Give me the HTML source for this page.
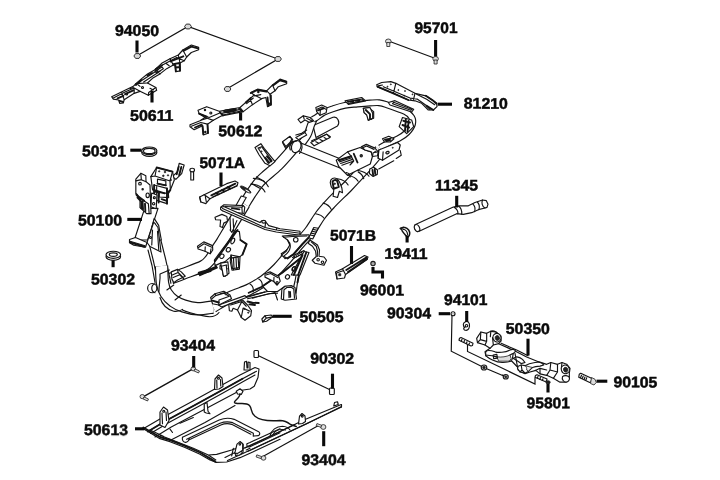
<!DOCTYPE html>
<html><head><meta charset="utf-8">
<style>
html,body{margin:0;padding:0;background:#fff;}
body{width:720px;height:480px;overflow:hidden;}
svg{display:block;}
text{text-rendering:geometricPrecision;font-family:"Liberation Sans",sans-serif;font-weight:bold;font-size:15.4px;fill:#0a0a0a;stroke:#0a0a0a;stroke-width:0.5px;}
path,line,circle,ellipse,polyline,polygon,rect{vector-effect:non-scaling-stroke;}
.ld{stroke:#0a0a0a;stroke-width:3.1;fill:none;}
.l{stroke:#141414;stroke-width:1.15;fill:none;stroke-linejoin:round;stroke-linecap:round;}
.f{stroke:#141414;stroke-width:1.15;fill:#fff;stroke-linejoin:round;stroke-linecap:round;}
.g{stroke:#1c1c1c;stroke-width:0.8;fill:#ddd;stroke-linejoin:round;}
.k{stroke:#1c1c1c;stroke-width:0.8;fill:#222;}
.h{stroke:#141414;stroke-width:1.9;fill:none;stroke-linejoin:round;stroke-linecap:round;}
.t{stroke:#111;stroke-width:1.15;fill:none;}
.to{stroke:#141414;fill:none;stroke-linecap:butt;stroke-linejoin:round;}
.ti{stroke:#fff;fill:none;stroke-linecap:butt;stroke-linejoin:round;}
</style></head><body>
<svg width="720" height="480" viewBox="0 0 720 480">
<rect width="720" height="480" fill="#fff"/>
<!-- fasteners -->
<g id="fasteners">
<!-- 94050 nuts and lines -->
<path class="t" d="M137.5,55.5L188,26.5L278,59L227.5,88.5"/>
<g class="g" style="stroke-width:0.9;fill:#d8d8d8">
<path d="M140.7,56.0L139.0,58.4L135.6,58.4L133.9,56.0L135.6,53.6L139.0,53.6Z"/>
<path d="M191.4,26.5L189.7,28.9L186.3,28.9L184.6,26.5L186.3,24.1L189.7,24.1Z"/>
<path d="M281.4,59.0L279.7,61.4L276.3,61.4L274.6,59.0L276.3,56.6L279.7,56.6Z"/>
<path d="M230.9,89.0L229.2,91.4L225.8,91.4L224.1,89.0L225.8,86.6L229.2,86.6Z"/>
</g>
<!-- 95701 bolts -->
<path class="t" d="M388.5,41L435.5,58.5"/>
<g class="g">
<ellipse cx="388.3" cy="41.3" rx="2.8" ry="2.3"/><rect x="386.8" y="42.5" width="3" height="4"/>
<ellipse cx="435.6" cy="58.8" rx="2.8" ry="2.3"/><rect x="434.1" y="60" width="3" height="4"/>
</g>
<!-- bolt near 5071A -->
<g class="f"><rect x="190.8" y="171" width="2.8" height="9"/><ellipse cx="192.2" cy="170" rx="2.3" ry="1.8"/></g>
<!-- 50301 ring -->
<g class="f"><ellipse cx="149.3" cy="152.5" rx="7.6" ry="3.8"/><ellipse cx="149.3" cy="150.8" rx="7.6" ry="3.8"/><ellipse cx="149.3" cy="151" rx="5.8" ry="2.6"/></g>
<!-- 50302 ring -->
<g class="f"><ellipse cx="113.3" cy="256.8" rx="7.3" ry="3.6"/><ellipse cx="113.3" cy="254.8" rx="7.3" ry="3.6"/><ellipse cx="113.3" cy="254.6" rx="4" ry="1.8"/></g>
<!-- 96001 ball -->
<circle class="g" style="fill:#aaa;stroke-width:1.1" cx="373" cy="263.6" r="2.2"/>
<!-- 90302 clips + line -->
<path class="t" d="M258,355.5L330.5,390"/>
<g class="f"><rect x="254" y="350.5" width="4.5" height="7" rx="1"/><rect x="329.5" y="388" width="4.8" height="6.5" rx="1"/></g>
<!-- 93404 upper -->
<path class="t" style="stroke-width:1.4" d="M144,396.3L192.5,369.2"/>
<g class="g"><ellipse cx="193.3" cy="368.8" rx="2.3" ry="2.1"/><rect x="194.5" y="368.8" width="5" height="2.2" transform="rotate(25 194.5 369.8)"/>
<ellipse cx="142.3" cy="396.6" rx="2.3" ry="2.1"/><rect x="143.5" y="396.8" width="5" height="2.2" transform="rotate(25 143.5 397.8)"/></g>
<!-- 93404 lower -->
<path class="t" d="M318.5,425.5L262,457"/>
<g class="g"><ellipse cx="323.3" cy="427" rx="2.6" ry="2.4"/><rect x="316.5" y="424" width="5" height="2.2" transform="rotate(20 318 425)"/>
<ellipse cx="263.5" cy="458" rx="2.4" ry="2.2"/><rect x="256.5" y="455.3" width="5" height="2.2" transform="rotate(20 258 456)"/></g>
</g>
<!-- b50611 -->
<g id="b50611" transform="translate(100,30) scale(0.166667)">
<path class="f" d="M70,400L150,362L200,338L215,322L250,292L285,264L330,238L370,200L420,172L470,150L497,120L548,90L592,104L592,118L548,135L520,162L505,185L480,198L482,245L455,250L450,212L440,210L400,232L362,262L315,290L285,318L335,345L340,362L290,392L240,368L205,380L145,418L140,438L118,440L112,420L80,415Z"/>
<path class="l" d="M80,408L150,372L205,348L240,368M215,322L285,318M255,300L350,238M262,312L360,248M130,375L145,418M205,348L205,380M330,238L362,262M372,212L460,165L505,185M497,120L520,162M290,392L292,375L335,345M300,350L320,360M420,172L440,210M470,150L480,198"/>
<circle class="l" cx="255" cy="345" r="6"/><circle class="l" cx="425" cy="188" r="4"/><circle class="l" cx="160" cy="385" r="5"/>
<path class="h" d="M105,410L140,395M455,225L480,222M430,185L500,158M440,205L478,198M452,212L455,248M478,200L480,244M285,272L312,258M335,235L372,212M150,385L200,362M215,330L250,300M118,425L138,432M500,125L548,100L588,110"/>
<path class="l" d="M330,248L372,222L380,232L340,258ZM180,352L200,345M230,330L240,338M395,200L415,215"/>
</g>
<!-- b50612 -->
<g id="b50612" transform="translate(180,60) scale(0.166667)">
<path class="f" d="M60,388L120,365L150,345L115,322L108,302L160,280L235,308L360,285L420,232L445,210L425,195L465,175L520,185L555,150L600,115L640,128L640,142L590,160L570,185L540,205L545,270L525,280L515,225L490,232L435,268L380,310L250,335L200,362L165,385L168,440L140,450L135,395L85,418L60,400Z"/>
<path class="l" d="M68,398L125,375L165,385M150,345L200,362M115,322L175,345L235,320M250,320L355,298M258,330L370,305M360,285L380,310M420,232L435,268M445,210L490,232M520,185L540,205M555,150L570,185M270,300L330,292M400,262L440,228"/>
<circle class="l" cx="185" cy="318" r="6"/><circle class="l" cx="150" cy="300" r="4"/><circle class="l" cx="470" cy="192" r="4"/><circle class="l" cx="152" cy="432" r="4"/><circle class="l" cx="535" cy="262" r="4"/>
<path class="h" d="M135,395L140,445M525,225L530,275M265,310L335,296M165,388L168,438M545,212L546,268M115,322L160,340M425,198L465,180L518,190M560,152L600,122L636,132M90,405L130,388M240,315L258,332M355,292L372,308M395,255L425,228"/>
<path class="l" d="M280,308L330,298L335,306L285,316ZM130,360L160,350M445,215L485,208"/>
</g>
<!-- b81210 -->
<g id="b81210" transform="translate(360,60) scale(0.166667)">
<path class="f" d="M100,148L130,135L185,130L215,140L330,200L395,215L440,245L460,258L462,280L440,300L410,300L370,260L330,245L290,240L200,200L140,175L105,162Z"/>
<path class="l" d="M140,160L300,228L345,235L400,275L420,298M340,205L400,235L448,268M215,140L200,200M330,200L320,242M110,155L135,150"/>
<path class="h" d="M105,160L140,175L200,200L290,240M395,215L440,245L458,262M400,275L440,300"/>
<g class="k"><circle cx="185" cy="146" r="3"/><circle cx="165" cy="160" r="3"/><circle cx="230" cy="180" r="3"/><circle cx="270" cy="186" r="3"/><circle cx="265" cy="214" r="3"/><circle cx="315" cy="206" r="3"/><circle cx="305" cy="234" r="3"/></g>
</g>
<!-- frame_under -->
<g id="frame_under">
<!-- knob behind down tube (8x window 140,260) -->
<g transform="translate(140,260) scale(0.125)">
<circle class="f" cx="98" cy="225" r="37"/>
<path class="l" d="M120,190A38,38 0 0,0 120,262"/>
</g>
</g>
<!-- frame_tubes -->
<g id="frame">
<path class="to" stroke-width="12.15" d="M171.0,278.5C173.0,277.7 177.7,276.0 183.0,273.9C188.3,271.8 198.4,268.4 203.0,266.0C207.6,263.6 208.0,262.2 210.4,259.3C212.8,256.4 215.3,251.8 217.2,248.8C219.1,245.8 219.4,245.8 222.0,241.5C224.6,237.2 229.2,229.2 233.0,223.0C236.8,216.8 242.6,207.2 244.5,204.0" />
<path class="ti" stroke-width="9.85" d="M171.0,278.5C173.0,277.7 177.7,276.0 183.0,273.9C188.3,271.8 198.4,268.4 203.0,266.0C207.6,263.6 208.0,262.2 210.4,259.3C212.8,256.4 215.3,251.8 217.2,248.8C219.1,245.8 219.4,245.8 222.0,241.5C224.6,237.2 229.2,229.2 233.0,223.0C236.8,216.8 242.6,207.2 244.5,204.0" />
<path class="to" stroke-width="11.45" d="M244.5,204.0C245.6,202.2 248.7,196.9 251.0,193.5C253.3,190.1 256.0,186.1 258.3,183.3C260.6,180.5 261.7,179.7 265.0,176.6C268.3,173.5 273.6,169.7 278.3,165.0C283.0,160.3 290.2,151.8 293.3,148.3C296.4,144.8 296.4,144.7 297.0,144.0" />
<path class="ti" stroke-width="9.15" d="M244.5,204.0C245.6,202.2 248.7,196.9 251.0,193.5C253.3,190.1 256.0,186.1 258.3,183.3C260.6,180.5 261.7,179.7 265.0,176.6C268.3,173.5 273.6,169.7 278.3,165.0C283.0,160.3 290.2,151.8 293.3,148.3C296.4,144.8 296.4,144.7 297.0,144.0" />
<path class="f" d="M313,125.5L333,117.3C337.5,116 340.5,122 337.5,126L316,137.5Z"/>
<path class="to" stroke-width="8.15" d="M302.0,143.0C302.9,141.7 306.0,138.0 307.5,135.0C309.0,132.0 309.9,127.8 311.0,125.0C312.1,122.2 313.5,119.6 314.0,118.5" />
<path class="ti" stroke-width="5.85" d="M302.0,143.0C302.9,141.7 306.0,138.0 307.5,135.0C309.0,132.0 309.9,127.8 311.0,125.0C312.1,122.2 313.5,119.6 314.0,118.5" />
<path class="to" stroke-width="6.95" d="M313.0,119.5C313.6,119.1 315.2,118.3 316.9,117.2C318.6,116.1 320.3,114.2 323.0,112.8C325.7,111.3 329.3,110.0 333.0,108.8C336.7,107.5 340.9,106.1 345.0,105.3C349.1,104.5 353.3,104.4 357.5,104.0C361.7,103.6 366.5,103.2 370.0,103.0C373.5,102.8 376.0,102.5 378.8,102.7C381.5,103.0 381.9,103.0 386.2,104.5C390.6,106.0 400.8,109.4 405.0,111.5C409.2,113.6 410.2,114.9 411.5,117.0C412.8,119.1 413.2,121.4 412.5,124.0C411.8,126.6 409.3,130.1 407.0,132.5C404.7,134.9 401.6,136.8 398.5,138.5C395.4,140.2 391.6,141.4 388.5,143.0C385.4,144.6 381.4,147.2 380.0,148.0" />
<path class="ti" stroke-width="4.65" d="M313.0,119.5C313.6,119.1 315.2,118.3 316.9,117.2C318.6,116.1 320.3,114.2 323.0,112.8C325.7,111.3 329.3,110.0 333.0,108.8C336.7,107.5 340.9,106.1 345.0,105.3C349.1,104.5 353.3,104.4 357.5,104.0C361.7,103.6 366.5,103.2 370.0,103.0C373.5,102.8 376.0,102.5 378.8,102.7C381.5,103.0 381.9,103.0 386.2,104.5C390.6,106.0 400.8,109.4 405.0,111.5C409.2,113.6 410.2,114.9 411.5,117.0C412.8,119.1 413.2,121.4 412.5,124.0C411.8,126.6 409.3,130.1 407.0,132.5C404.7,134.9 401.6,136.8 398.5,138.5C395.4,140.2 391.6,141.4 388.5,143.0C385.4,144.6 381.4,147.2 380.0,148.0" />
<path class="to" stroke-width="9.75" d="M298.0,146.5L346.0,165.7" />
<path class="ti" stroke-width="7.45" d="M298.0,146.5L346.0,165.7" />
<ellipse class="f" cx="296.2" cy="146.6" rx="4.6" ry="6.2" transform="rotate(20 296.2 146.6)"/><path class="l" d="M300.5,141.5C303,145 302.5,150 299.5,153.5"/>
<path class="to" stroke-width="11.95" d="M380.0,150.0C378.7,151.7 375.8,155.7 372.0,160.0C368.2,164.3 361.6,171.6 357.5,176.0C353.4,180.4 352.1,182.0 347.7,186.5C343.3,191.0 335.5,198.2 331.0,203.0C326.5,207.8 324.1,210.3 320.6,215.0C317.1,219.7 313.8,226.0 310.0,231.0C306.2,236.0 301.9,240.4 298.0,245.0C294.1,249.6 289.9,254.6 286.5,258.5C283.1,262.4 280.7,265.4 277.7,268.5C274.7,271.6 271.3,274.6 268.5,277.0C265.7,279.4 264.4,280.6 261.0,282.7C257.6,284.8 253.6,287.4 248.4,289.8C243.2,292.2 235.5,294.4 229.6,297.3C223.7,300.2 215.8,305.4 213.0,307.0" />
<path class="ti" stroke-width="9.65" d="M380.0,150.0C378.7,151.7 375.8,155.7 372.0,160.0C368.2,164.3 361.6,171.6 357.5,176.0C353.4,180.4 352.1,182.0 347.7,186.5C343.3,191.0 335.5,198.2 331.0,203.0C326.5,207.8 324.1,210.3 320.6,215.0C317.1,219.7 313.8,226.0 310.0,231.0C306.2,236.0 301.9,240.4 298.0,245.0C294.1,249.6 289.9,254.6 286.5,258.5C283.1,262.4 280.7,265.4 277.7,268.5C274.7,271.6 271.3,274.6 268.5,277.0C265.7,279.4 264.4,280.6 261.0,282.7C257.6,284.8 253.6,287.4 248.4,289.8C243.2,292.2 235.5,294.4 229.6,297.3C223.7,300.2 215.8,305.4 213.0,307.0" />
<path class="to" stroke-width="13.45" d="M151.5,228.0L159.5,260.0L165.0,285.0" />
<path class="ti" stroke-width="11.15" d="M151.5,228.0L159.5,260.0L165.0,285.0" />
<path class="to" stroke-width="13.45" d="M161.5,266.0C161.7,268.8 161.8,278.5 162.5,283.0C163.2,287.5 164.1,290.0 166.0,293.0C167.9,296.0 170.8,299.1 173.8,301.2C176.7,303.4 179.8,304.7 183.8,306.0C187.7,307.3 192.6,308.6 197.5,308.8C202.4,309.0 210.4,307.3 213.0,307.0" />
<path class="ti" stroke-width="11.15" d="M161.5,266.0C161.7,268.8 161.8,278.5 162.5,283.0C163.2,287.5 164.1,290.0 166.0,293.0C167.9,296.0 170.8,299.1 173.8,301.2C176.7,303.4 179.8,304.7 183.8,306.0C187.7,307.3 192.6,308.6 197.5,308.8C202.4,309.0 210.4,307.3 213.0,307.0" />
</g>
<!-- frame_detail1 -->
<g id="frame_detail1">
<!-- U-bend area, 8x window (140,260) -->
<g transform="translate(140,260) scale(0.125)">
<path class="l" d="M160,300C175,350 215,395 270,410C300,415 325,405 340,395M340,400C380,420 450,435 500,445C560,462 610,450 632,420M215,240L270,200M280,320L330,280M165,110L235,80M160,112C165,160 150,200 152,250"/>
<path class="f" d="M250,95L300,75L330,95L362,130L300,160L270,182L255,150Z"/>
<path class="l" d="M258,120L305,100L340,135M265,140L318,118L350,150M300,75L305,100"/>
<path class="h" d="M470,102L560,76M475,112L565,88"/>
<path class="f" d="M640,45L700,40L705,70L690,75L692,118L665,122L660,80L640,70Z"/>
</g>
<!-- far rail lower brackets, 8x window (150,230) -->
<g transform="translate(150,230) scale(0.125)">
<path class="f" d="M380,130L430,95L500,125L502,160L482,190L440,170L385,152Z"/>
<path class="l" d="M388,140L432,110L495,138M440,170L442,135M482,190L488,150"/>
<path class="f" d="M515,240L690,5L715,13L723,80L773,113L740,197L698,230L648,213L598,255L565,265L520,285Z"/>
<ellipse class="l" cx="575" cy="210" rx="16" ry="19" transform="rotate(30 575 210)"/>
<ellipse class="l" cx="627" cy="158" rx="16" ry="19" transform="rotate(30 627 158)"/>
<ellipse class="l" cx="662" cy="88" rx="13" ry="24" transform="rotate(25 662 88)"/>
<path class="h" d="M520,250L700,0M392,352L530,292M400,362L535,302"/>
<path class="f" d="M565,265L623,255L632,346L598,372L575,315Z"/>
<path class="f" d="M648,200L720,215L715,313L656,322L642,250Z"/>
<path class="l" d="M665,250L668,318M685,252L690,316M700,255L703,313M648,200L660,248L715,262"/>
<circle class="k" cx="612" cy="285" r="4"/><circle class="k" cx="615" cy="310" r="4"/><path class="h" d="M723,80L773,113L740,197"/>
</g>
</g>
<!-- frame_detail2 -->
<g id="frame_detail2">
<!-- near lower rail details, 8x window (215,250) -->
<g transform="translate(215,250) scale(0.125)">
<!-- far-side gusset remnants top-left -->
<path class="f" d="M50,130L90,120L98,200L68,212L60,170Z"/>
<path class="f" d="M130,65L185,55L190,140L140,150Z"/>
<path class="l" d="M148,65L152,146M168,60L172,142"/>
<!-- gusset plate near -->
<path class="f" d="M380,290L540,180L690,60L700,70L690,110L660,260L648,345L600,292L560,290L500,332L420,332Z"/>
<path class="h" d="M380,290L540,180L690,60M270,342L380,292M690,110L660,260"/>
<path class="l" d="M260,370L420,332M300,385L430,350L500,345M670,80L640,250L628,300"/>
<ellipse class="l" cx="635" cy="150" rx="15" ry="18" transform="rotate(30 635 150)"/>
<ellipse class="l" cx="580" cy="215" rx="16" ry="18" transform="rotate(30 580 215)"/>
<!-- bracket on rail -->
<path class="f" d="M400,190L440,175L510,210L522,250L497,282L470,252L400,217Z"/>
<path class="l" d="M408,200L445,188L505,222M470,252L472,218"/>
<circle class="l" cx="497" cy="262" r="9"/>
<!-- block -->
<path class="f" d="M535,312L560,290L610,285L640,300L652,392L560,402L530,392Z"/>
<path class="l" d="M552,318L575,300L610,298L630,312L636,385M552,318L548,395M590,330L592,380"/>
<path class="h" d="M600,335L602,375"/>
<!-- bands -->
<path class="l" d="M280,272C300,285 310,310 305,335M350,232C365,240 380,262 378,288"/>
<!-- top right strap -->
<path class="f" d="M530,30L575,0L620,0L640,20L560,70Z"/>
<path class="l" d="M620,60L680,20M628,68L688,28"/>
</g>
<!-- foot bracket 8x window (200,280) -->
<g transform="translate(200,280) scale(0.125)">
<path class="f" d="M150,200L360,125L372,140L172,216Z"/>
<path class="f" d="M85,140L120,110L190,90L240,120L252,150L150,200L100,190Z"/>
<path class="l" d="M95,150L125,125L190,105L235,130M150,200L152,160L235,130M120,110L125,125M160,110L200,100L205,118"/>
<path class="h" d="M100,165L150,180"/>
<path class="f" d="M230,195L340,160L380,200L412,245L406,286L360,322L330,300L300,240L265,226L255,250L235,246Z"/>
<path class="l" d="M245,200L335,172L370,210M300,240L335,172M330,300L345,225L400,250"/>
<circle class="k" cx="356" cy="231" r="5"/><circle class="k" cx="386" cy="261" r="5"/>
<path class="h" d="M380,172L420,182L470,184M395,195L440,200"/>
<path class="l" d="M372,140L520,95M380,150L600,100L620,160"/>
</g>
</g>
<!-- frame_detail3 -->
<g id="frame_detail3">
<!-- cross member left, 8x window (210,180) -->
<g transform="translate(210,180) scale(0.125)">
<!-- bands on far rail -->
<path class="l" d="M335,30L398,66M372,-25L435,12"/>
<!-- rod + washer -->
<path class="f" d="M250,128L290,140L232,242L192,232Z"/>
<ellipse class="k" cx="285" cy="76" rx="50" ry="13" transform="rotate(32 285 76)"/>
<ellipse cx="300" cy="88" rx="22" ry="5" fill="#fff" transform="rotate(32 300 88)"/>
<!-- legs under bar -->
<path class="f" d="M40,298L95,275L135,292L140,330L110,345L100,380L80,372L85,320L45,318Z"/>
<path class="l" d="M160,300L165,400M185,310L190,410M215,325L175,420M160,400L175,420"/>
<!-- bracket box on rail -->
<path class="f" d="M85,218L112,198L265,205L278,218L272,268L100,245Z"/>
<path class="l" d="M120,212L255,218"/><path class="h" d="M175,225L235,235"/>
<path class="l" d="M265,205L255,218L258,262"/>
<!-- bar -->
<path class="f" d="M85,222L110,212L290,292L400,340L415,326L445,335L470,365L560,390L720,410L720,442L530,416L440,396L100,246L85,236Z"/>
<path class="l" d="M100,228L440,380L530,400L720,426M440,380L445,335M530,400L535,385"/>

<ellipse class="f" cx="430" cy="334" rx="16" ry="11"/>
</g>
<!-- cross member right + gusset, 8x window (250,215) -->
<g transform="translate(250,215) scale(0.125)">
<path class="f" d="M258,168L340,162L470,158L478,172L420,232L350,312L300,347L250,322L290,290L318,240L300,200Z"/>
<path class="l" d="M300,200C335,235 330,285 275,325M268,178L340,172L455,168"/>
<circle class="l" cx="366" cy="198" r="18"/>
<path class="h" d="M478,172L420,232L350,312L300,347"/>
<!-- hatched strip -->
<path class="f" d="M350,322L432,285L442,300L362,340Z"/>
<path class="l" d="M365,318L375,332M380,311L390,325M395,304L405,318M410,297L420,311"/>
<!-- strap hatched on rail -->
<path class="f" d="M510,100L546,106L502,192L470,182Z"/>
<path class="l" d="M503,115L537,122M496,130L530,137M489,145L522,152M482,160L514,167"/>
<!-- bent strap -->
<path class="f" d="M480,200L540,240L556,280L552,330L592,336L612,362L592,402L520,386L498,362L530,332L525,290L500,250L465,226Z"/>
<path class="l" d="M490,215L530,250L540,290L538,332"/>
<circle class="l" cx="545" cy="358" r="10"/><circle class="l" cx="580" cy="378" r="10"/>
<!-- lower gusset -->
<path class="f" d="M432,292L472,300L400,480L330,480Z"/>
<path class="h" d="M450,300L385,480M420,320L350,480"/>
<ellipse class="l" cx="350" cy="432" rx="13" ry="18" transform="rotate(25 350 432)"/>
</g>
</g>
<!-- head -->
<g id="head">
<!-- 6x window (115,160) -->
<g transform="translate(115,160) scale(0.166667)">
<!-- head tube -->
<path class="f" d="M178,290L258,290L196,480L116,480Z"/>
<!-- lock arm -->
<path class="f" d="M345,100L375,70L385,20L415,30L400,82L365,116Z"/>
<path class="h" d="M382,40L370,85M398,42L385,92"/>
<!-- lock top -->
<path class="f" d="M215,100L250,45L345,70L356,120L332,180L300,202L225,176Z"/>
<path class="l" d="M250,45L240,96L215,100M240,96L330,126L345,70M330,126L332,180"/>
<g class="k"><circle cx="265" cy="68" r="4"/><circle cx="300" cy="72" r="5"/><circle cx="318" cy="92" r="4"/><circle cx="290" cy="95" r="5"/><circle cx="335" cy="120" r="4"/></g>
<path class="f" d="M255,115L305,125L305,152L255,142Z"/>
<path class="f" d="M235,150L312,170L312,262L235,238Z"/>
<path class="l" d="M235,190L312,212M250,160L250,240"/>
<path class="f" d="M265,195L320,200L322,226L265,222Z"/>
<path class="h" d="M235,150L235,238M312,170L312,262M255,142L305,152M228,178L298,200M332,180L318,200M250,45L345,70M262,200L262,255M280,235L310,245"/>
<!-- right plate -->
<path class="f" d="M220,198L252,210L247,292L215,280Z"/>
<circle class="l" cx="236" cy="226" r="6"/><circle class="l" cx="232" cy="262" r="7"/>
<!-- left bracket plate -->
<path class="f" d="M125,115L155,80L185,95L186,130L210,150L216,322L190,322L150,286L150,230L125,200Z"/>
<path class="l" d="M155,80L158,118L186,130M158,118L125,125M150,230L200,262L205,322"/>
<circle class="l" cx="150" cy="142" r="8"/><ellipse class="l" cx="196" cy="212" rx="10" ry="14"/><circle class="l" cx="166" cy="176" r="4"/>
<path class="h" d="M128,205L150,230M135,225L158,250L158,290M165,248L168,296M180,262L182,308M130,212L175,245"/>
<!-- gusset below head -->
<path class="f" d="M235,350L262,392L278,480L215,480L222,400Z"/>
<path class="l" d="M240,380L250,480"/>
<circle class="l" cx="212" cy="468" r="4"/>
</g>
<!-- W3 4x window (120,200): bottom cap + gusset -->
<g transform="translate(120,200) scale(0.25)">
<path class="f" d="M135,88L152,110L164,208L120,186L108,170Z"/>
<path class="l" d="M130,120L127,180M150,125L155,200"/>
<circle class="l" cx="122" cy="150" r="4"/>
<path class="f" d="M38,158L62,150L108,170L102,189L55,181L38,171Z"/>
<path class="l" d="M40,165L100,183"/>
<path class="h" d="M42,170L98,187"/>
<path class="l" d="M112,200L128,262L140,330"/>
</g>
</g>
<!-- rear -->
<g id="rear">
<!-- 6x window (280,85) -->
<g transform="translate(280,85) scale(0.166667)">
<path class="f" d="M108,207L140,185L180,195L202,215L175,224L150,210L125,227Z"/>
<path class="l" d="M140,185L145,205M160,200L195,218"/>
<path class="f" d="M215,135L250,120L282,135L277,166L240,182L220,160Z"/>
<path class="l" d="M222,145L252,132L275,145M240,182L242,150"/>
<path class="h" d="M228,152L262,140"/>
<path class="f" d="M390,95L490,75L514,95L410,116Z"/>
<path class="l" d="M405,100L495,84L502,94L412,110Z"/><path class="h" d="M420,100L440,97M455,94L478,90"/>
<path class="f" d="M500,140L530,135L562,160L562,200L530,212L525,180L505,166Z"/>
<path class="h" d="M515,150L545,175L545,205"/>
<path class="f" d="M190,335L280,295L302,310L210,356Z"/>
<path class="l" d="M215,335L232,342M235,325L250,332M255,316L270,323"/>
<path class="f" d="M15,345L60,310L76,326L35,382Z"/>
<path class="l" d="M30,348L55,330"/>
<path class="l" d="M95,300L130,290L160,270M62,390C50,365 70,335 100,335"/>
</g>
<!-- 6x window (340,100) -->
<g transform="translate(340,100) scale(0.166667)">
<path class="f" d="M290,15L330,4L442,56L430,72L300,30Z"/>
<path class="l" d="M315,22L425,62L432,56L322,14Z"/>
<path class="f" d="M140,50L180,45L196,80L196,110L170,122L160,90L145,76Z"/>
<path class="h" d="M155,60L180,85L180,112"/>
<path class="f" d="M375,105L430,120L442,160L400,202L355,160Z"/>
<path class="h" d="M380,125L420,135M375,150L415,165M395,115L390,185M412,125L405,190"/>
</g>
<!-- cluster 8x window (335,125) -->
<g transform="translate(335,125) scale(0.125)">
<path class="l" d="M350,352L470,286M490,268L530,242L522,205"/>
<path class="f" d="M10,282L100,215L200,180L240,200L290,215L300,250L282,312L180,362L100,402L30,332Z"/>
<path class="l" d="M30,282L130,250M35,295L135,262M45,308L140,275M55,322L150,288M130,250L150,288L120,320M100,215L130,250"/>
<path class="h" d="M150,230L180,300M30,282L130,250"/>
<circle class="l" cx="210" cy="246" r="9"/><circle class="k" cx="210" cy="246" r="3"/>
<path class="f" d="M210,175L250,155L320,185L346,215L340,246L300,252L290,215L240,200Z"/>
<path class="l" d="M222,182L252,168L312,195M300,252L305,222L340,215"/>
<circle class="k" cx="322" cy="212" r="4"/>
<path class="f" d="M350,200L500,140L522,160L512,200L380,282L345,266Z"/>
<ellipse class="l" cx="420" cy="221" rx="14" ry="9" transform="rotate(-25 420 221)"/><circle class="k" cx="462" cy="182" r="4"/>
<path class="l" d="M350,200L345,266M380,282L385,215"/>
<path class="f" d="M380,110L430,90L472,110L442,136L395,136Z"/>
<path class="h" d="M400,118L445,110M410,128L440,122"/>
<path class="f" d="M278,352L310,338L340,360L338,395L305,412L275,388Z"/>
<path class="h" d="M300,360L305,400M318,352L322,392"/>
<path class="l" d="M180,362C215,368 255,385 272,410M100,402C135,408 170,425 185,450M20,430C55,435 90,455 105,480"/>
</g>
<!-- far rail tab (6x window 220,130) -->
<g transform="translate(220,130) scale(0.166667)">
<path class="f" d="M210,105L245,82L265,110L330,190L300,215L270,200L235,150Z"/>
<path class="l" d="M228,108L250,100L312,185L290,200Z"/>
<path class="h" d="M270,165L295,195M282,158L308,188"/>
<circle class="k" cx="240" cy="108" r="3"/><circle class="k" cx="250" cy="128" r="3"/>
<path class="f" d="M375,70L420,38L430,55L420,75L395,100Z"/>
<path class="l" d="M200,290C240,292 275,310 290,340M185,325C225,325 255,345 270,372"/>
<path class="f" d="M455,45L510,15L520,30L470,58Z"/>
<path class="f" d="M545,75L640,25L660,45L565,95Z"/>
<path class="l" d="M575,70L590,78M600,57L615,65M625,45L638,52"/>
</g>
<!-- near rail tab + bands (8x window 290,160) -->
<g transform="translate(290,160) scale(0.125)">
<path class="f" d="M322,180C322,150 350,135 375,150C395,162 405,195 415,225L420,262L395,250L380,300L345,290L350,240L330,215Z"/>
<path class="h" d="M340,175C345,160 365,155 378,168L390,215L350,230Z"/>
<circle class="k" cx="358" cy="190" r="6"/>
<path class="l" d="M205,430C235,435 262,450 275,468M265,345C295,352 318,370 330,395M450,100C470,105 482,118 482,135M545,95C565,105 582,125 590,150"/>
</g>
</g>
<!-- small_parts -->
<g id="small_parts">
<!-- 5071A bar: 6x window (120,130) -->
<g transform="translate(120,130) scale(0.166667)">
<path class="f" d="M478,402L505,388L640,322L690,306L708,316L702,336L560,402L540,412L515,442L485,432Z"/>
<path class="l" d="M505,388L540,412M485,432L478,402M512,400L518,432"/>
<path class="h" d="M548,392L692,322M575,378L590,386M610,360L625,368M645,342L660,350"/><path class="l" d="M556,402L700,334"/>
</g>
<!-- 5071B bar: 4x window (270,170) -->
<g transform="translate(270,170) scale(0.25)">
<path class="f" d="M262,408L290,395L378,342L392,348L388,358L302,418L298,432L268,436Z"/>
<path class="l" d="M290,395L302,418M268,436L266,412L295,402"/>
<path class="h" d="M305,400L385,350M312,408L388,356"/>
<rect class="k" x="275" y="415" width="8" height="8"/>
</g>
<!-- pipe 11345 + clamp: 6x window (390,170) -->
<g transform="translate(390,170) scale(0.166667)">
<path class="f" d="M150,328L380,222L420,215L470,215L510,195L555,180L578,184L588,205L582,224L570,228L530,238L490,256L440,266L400,262L175,368C158,375 140,355 150,328Z"/>
<ellipse class="f" cx="162" cy="348" rx="15" ry="22" transform="rotate(-25 162 348)"/>
<path class="l" d="M385,224C398,232 408,248 408,262M412,216C424,226 432,246 430,265M498,205C508,215 512,235 508,250M524,192C534,202 538,222 534,238M555,180C548,195 552,218 570,228"/>
<!-- clamp -->
<path class="f" style="stroke-width:1.5" d="M70,352C78,340 100,344 112,360C122,375 120,395 108,402C98,398 92,392 88,385C80,375 68,368 70,352Z"/>
<path class="l" d="M80,356C92,356 104,370 106,388M62,348L82,343M66,356L60,350"/>
</g>
<!-- 50505 : 8x window (200,280) -->
<g transform="translate(200,280) scale(0.125)">
<path class="f" d="M495,312L520,286L570,280L582,295L532,330L502,336Z"/>
<path class="l" d="M520,286L530,305L502,336M530,305L582,295"/>
</g>
</g>
<!-- arm -->
<g id="arm">
<!-- 4x window (430,290) fasteners and lines -->
<g transform="translate(430,290) scale(0.25)">
<path class="t" d="M88,102L85,245L215,310L300,346M150,218L150,246L420,376L420,350"/>
<circle class="f" cx="92" cy="95" r="8"/><circle cx="92" cy="95" r="3" fill="#999"/>
<!-- washer 94101 -->
<path class="f" d="M140,128C150,122 160,130 158,145C156,158 148,165 138,160C132,155 135,150 140,150C130,145 132,132 140,128Z"/>
<circle class="l" cx="146" cy="143" r="5"/>
<!-- pins -->
<path class="f" d="M118,193L124,190L172,213L170,222L164,224L116,201Z"/>
<path class="f" d="M422,342L428,339L468,356L466,364L460,366L420,349Z"/>
<path class="l" d="M128,197L125,205M138,202L135,210M148,207L145,215M158,212L155,219M432,346L429,353M442,350L439,358M452,355L449,362"/>
<!-- nuts -->
<ellipse class="g" style="fill:#ccc;stroke-width:1.2" cx="216" cy="310" rx="11" ry="10"/><ellipse class="k" cx="216" cy="310" rx="5" ry="4.5"/>
<ellipse class="g" style="fill:#ccc;stroke-width:1.2" cx="303" cy="347" rx="10" ry="9"/><ellipse class="k" cx="303" cy="347" rx="4" ry="3.5"/>
<path class="l" d="M290,340L296,343"/>
<!-- bolt 95801 -->
<ellipse class="k" cx="472" cy="369" rx="9" ry="6"/>
<!-- bolt 90105 -->
<path class="f" d="M597,337L603,333L648,354L644,368L639,370L595,349Z"/>
<path class="g" d="M646,350L660,357L665,370L656,380L642,374Z"/>
<path class="l" d="M606,341L602,351M613,344L609,354M620,348L616,358M627,351L623,361"/>
</g>
<!-- 6x window (460,320) arm body -->
<g transform="translate(460,320) scale(0.166667)">
<path class="f" d="M100,110L125,72L160,80L185,68L215,72L245,95L247,125L232,142L330,186L400,222L470,250L520,266L545,255L585,266L612,255L640,265L660,290L656,320L656,350L636,373L600,373L560,350L520,332L480,323L455,302L420,312L390,322L350,302L345,282L310,246L250,252L200,236L155,216L150,190L180,170L150,150L105,136Z"/>
<!-- left block lines -->
<path class="l" d="M125,72L122,118L105,136M122,118L160,128L160,80M160,128L150,150M185,68L182,100M232,142L200,150L180,170M200,150L195,105"/>
<!-- left bushing -->
<ellipse class="f" cx="222" cy="106" rx="24" ry="26" transform="rotate(-20 222 106)"/>
<ellipse class="k" cx="224" cy="108" rx="13" ry="15" transform="rotate(-20 224 108)"/>
<path class="l" d="M185,68C195,62 215,66 225,80"/>
<!-- saddles -->
<path class="f" d="M154,191C160,182 185,182 210,191C230,197 270,195 300,180C312,175 328,176 334,187L319,202L315,229C312,245 300,250 285,252C255,258 215,250 195,240C175,230 158,222 154,210Z"/>
<path class="g" d="M221,221C250,225 280,220 300,210L307,232C300,245 290,248 285,247L232,247Z"/>
<path class="l" d="M199,210L221,206L225,229L202,232ZM154,210C175,212 200,215 221,221M300,210C310,205 318,202 319,202"/>
<path class="f" d="M319,229L341,221C355,222 368,230 375,236L390,255L367,262C355,250 335,240 319,229Z"/>
<path class="f" d="M349,277L367,270L390,274C400,268 430,258 450,255C470,252 485,255 491,259L502,270L480,277C465,278 448,280 435,285C425,292 418,300 412,307L390,319L360,311L345,292Z"/>
<path class="g" d="M390,274C398,280 402,290 400,300L412,307C418,298 425,290 435,285C420,282 405,278 390,274Z" style="fill:#eee"/>
<path class="l" d="M367,270L372,300L360,311M372,300L390,319"/>
<!-- arm edges -->
<path class="l" d="M247,140L340,180L408,215M330,200L345,282M455,302L480,290L520,300M480,290L480,323"/>
<!-- right block -->
<path class="l" d="M545,255L540,300L520,332M540,300L585,312L585,266M585,312L560,350M612,255L608,290"/>
<!-- right bushing -->
<ellipse class="f" cx="632" cy="296" rx="24" ry="26" transform="rotate(-20 632 296)"/>
<ellipse class="k" cx="634" cy="298" rx="13" ry="15" transform="rotate(-20 634 298)"/>
<path class="f" d="M615,340C625,330 650,332 656,345C660,358 650,372 636,373C620,372 610,355 615,340Z"/>
</g>
</g>
<!-- cover -->
<g id="cover">
<!-- window A: 4x (130,340) -->
<g transform="translate(130,340) scale(0.25)">
<!-- body fill -->
<path class="l" d="M58,352L130,310L250,245L350,190L440,140L500,110L516,116L512,150L497,185L480,196L440,202"/>
<path class="l" d="M72,366L140,325L260,260L360,205L450,155L506,125"/>
<path class="l" d="M82,374L150,333L270,268L370,213L455,165L500,140"/>
<path class="l" d="M100,388L165,348L440,202M160,402L300,330L420,262"/>
<path class="h" d="M72,366L140,325L260,260L360,205L450,155"/>
<!-- tabs -->
<path class="f" d="M120,340L120,288L134,268L150,280L156,322L140,350Z"/>
<path class="l" d="M130,335L128,292M146,322L144,288"/><circle class="l" cx="135" cy="285" r="4"/>
<path class="f" d="M338,198L340,156L354,140L368,152L372,186L356,196Z"/>
<path class="l" d="M348,192L347,160M363,184L362,158"/><circle class="l" cx="354" cy="153" r="4"/>
<path class="f" d="M456,120L458,88L466,85L468,112L472,112L472,88L480,90L480,120Z"/>
<path class="f" d="M297,288L297,256L308,250L312,285L320,295L305,292Z"/>
<path class="f" d="M425,205L440,195L452,205L445,218L430,216Z"/>
<!-- wavy cable -->
<path class="l" style="stroke-width:1.4" d="M440,215C440,235 410,245 420,252C440,258 465,248 478,262C490,275 480,290 500,305C520,322 560,325 600,322C620,322 632,330 642,338L665,346"/>
</g>
<!-- window B: 4x (220,340) -->
<g transform="translate(220,340) scale(0.25)">
<path class="l" d="M20,470L80,440L200,385L340,318L485,258M30,482L100,450L345,335L486,268"/>
<path class="l" d="M486,258L486,268M110,446L345,336L486,266"/>
<path class="l" d="M200,384C205,360 225,345 250,345C265,346 275,352 280,360M212,378C220,362 240,355 262,360"/>
<path class="f" d="M314,336L318,305L328,294L340,304L342,326L330,334Z"/><circle class="l" cx="329" cy="305" r="3.5"/>
<path class="f" d="M62,462L70,420L81,407L93,418L92,450L78,460Z"/><circle class="l" cx="81" cy="419" r="3.5"/>
<path class="l" d="M70,455L74,425M86,448L86,422"/>
<path class="f" d="M455,264L458,250L470,247L473,258Z"/>
<path class="l" d="M100,432L300,338M105,440L120,433"/>
</g>
<!-- window C: 6x (160,400) -->
<g transform="translate(160,400) scale(0.166667)">
<!-- front lip -->
<path class="h" d="M-100,165L0,222L60,240L150,275L240,315L300,350L332,370"/>
<path class="l" d="M-95,175L0,232L60,250L150,285L240,325L300,360L335,374L400,372L480,346L560,310L720,236"/>
<path class="l" d="M0,212L100,250L200,290L290,330L340,326L430,300L470,286M-60,180L20,218M290,330L335,360"/>
<!-- opening -->
<path class="l" d="M135,224L355,120C385,108 420,108 445,116L592,190C602,198 600,210 590,214L560,216"/>
<path class="l" d="M160,236L360,140C385,130 415,130 436,136L560,200L560,216"/>
<path class="l" d="M135,224C130,240 140,252 152,254C165,255 172,245 176,232"/>
<path class="l" d="M172,240L365,150C388,140 412,140 430,146L545,205"/>
<!-- slot on right rim -->
<path class="l" d="M522,262C518,275 528,285 540,280L720,196M522,262L540,255L720,172"/>
<!-- tab -->
<path class="f" d="M448,322L462,265L480,250L496,262L496,302L470,318Z"/><circle class="l" cx="479" cy="266" r="5"/>
<path class="l" d="M440,290L430,335M120,140L200,105M60,175L75,195"/>
</g>
</g>
<!-- labels -->
<g id="labels" style="filter:grayscale(1)">
<g class="ld">
<path d="M137,40.5V52.5"/>
<path d="M152,91V102.5"/>
<path d="M240.6,112.5V120.5"/>
<path d="M435.6,40V56.5"/>
<path d="M437.7,104.2H452"/>
<path d="M130.3,150.2H141.5"/>
<path d="M221,172.5V186"/>
<path d="M127.3,219.4H142"/>
<path d="M456.7,195.8V207.5"/>
<path d="M351.5,246V264"/>
<path d="M407.1,235.5V242.5"/>
<path d="M113.1,260.4V267.2"/>
<path d="M373,267V272H382.5V278.5"/>
<path d="M272.5,316.3H291.7"/>
<path d="M438.7,313.7H450"/>
<path d="M466.7,311V322"/>
<path d="M528,338.7V355.5"/>
<path d="M193.7,356V367.5"/>
<path d="M332.5,373.7V388.7"/>
<path d="M596.5,381.2H607.3"/>
<path d="M548,383.7V392.5"/>
<path d="M135,428.8H144.2"/>
<path d="M323.7,431.2V446.2"/>
</g>
<text transform="rotate(0.2 115.0 35.8)" x="115.0" y="35.8" textLength="44" lengthAdjust="spacingAndGlyphs">94050</text>
<text transform="rotate(0.2 414.5 33.0)" x="414.5" y="33.0" textLength="43" lengthAdjust="spacingAndGlyphs">95701</text>
<text transform="rotate(0.2 130.0 120.7)" x="130.0" y="120.7" textLength="43.5" lengthAdjust="spacingAndGlyphs">50611</text>
<text transform="rotate(0.2 218.3 136.2)" x="218.3" y="136.2" textLength="44" lengthAdjust="spacingAndGlyphs">50612</text>
<text transform="rotate(0.2 463.8 108.6)" x="463.8" y="108.6" textLength="44" lengthAdjust="spacingAndGlyphs">81210</text>
<text transform="rotate(0.2 82.0 156.3)" x="82.0" y="156.3" textLength="44" lengthAdjust="spacingAndGlyphs">50301</text>
<text transform="rotate(0.2 199.5 168.0)" x="199.5" y="168.0" textLength="45.5" lengthAdjust="spacingAndGlyphs">5071A</text>
<text transform="rotate(0.2 78.0 225.5)" x="78.0" y="225.5" textLength="44" lengthAdjust="spacingAndGlyphs">50100</text>
<text transform="rotate(0.2 435.0 190.4)" x="435.0" y="190.4" textLength="43" lengthAdjust="spacingAndGlyphs">11345</text>
<text transform="rotate(0.2 330.0 240.6)" x="330.0" y="240.6" textLength="46" lengthAdjust="spacingAndGlyphs">5071B</text>
<text transform="rotate(0.2 384.5 258.8)" x="384.5" y="258.8" textLength="43" lengthAdjust="spacingAndGlyphs">19411</text>
<text transform="rotate(0.2 91.0 284.5)" x="91.0" y="284.5" textLength="44" lengthAdjust="spacingAndGlyphs">50302</text>
<text transform="rotate(0.2 360.0 295.3)" x="360.0" y="295.3" textLength="44" lengthAdjust="spacingAndGlyphs">96001</text>
<text transform="rotate(0.2 299.5 322.0)" x="299.5" y="322.0" textLength="44" lengthAdjust="spacingAndGlyphs">50505</text>
<text transform="rotate(0.2 387.0 318.3)" x="387.0" y="318.3" textLength="44" lengthAdjust="spacingAndGlyphs">90304</text>
<text transform="rotate(0.2 444.0 305.0)" x="444.0" y="305.0" textLength="43.5" lengthAdjust="spacingAndGlyphs">94101</text>
<text transform="rotate(0.2 505.8 333.8)" x="505.8" y="333.8" textLength="44" lengthAdjust="spacingAndGlyphs">50350</text>
<text transform="rotate(0.2 171.0 350.5)" x="171.0" y="350.5" textLength="44" lengthAdjust="spacingAndGlyphs">93404</text>
<text transform="rotate(0.2 310.2 363.6)" x="310.2" y="363.6" textLength="44" lengthAdjust="spacingAndGlyphs">90302</text>
<text transform="rotate(0.2 613.4 387.3)" x="613.4" y="387.3" textLength="44" lengthAdjust="spacingAndGlyphs">90105</text>
<text transform="rotate(0.2 526.5 408.2)" x="526.5" y="408.2" textLength="43.5" lengthAdjust="spacingAndGlyphs">95801</text>
<text transform="rotate(0.2 84.0 435.1)" x="84.0" y="435.1" textLength="44" lengthAdjust="spacingAndGlyphs">50613</text>
<text transform="rotate(0.2 301.5 465.0)" x="301.5" y="465.0" textLength="44" lengthAdjust="spacingAndGlyphs">93404</text>
</g>
</svg>
</body></html>
